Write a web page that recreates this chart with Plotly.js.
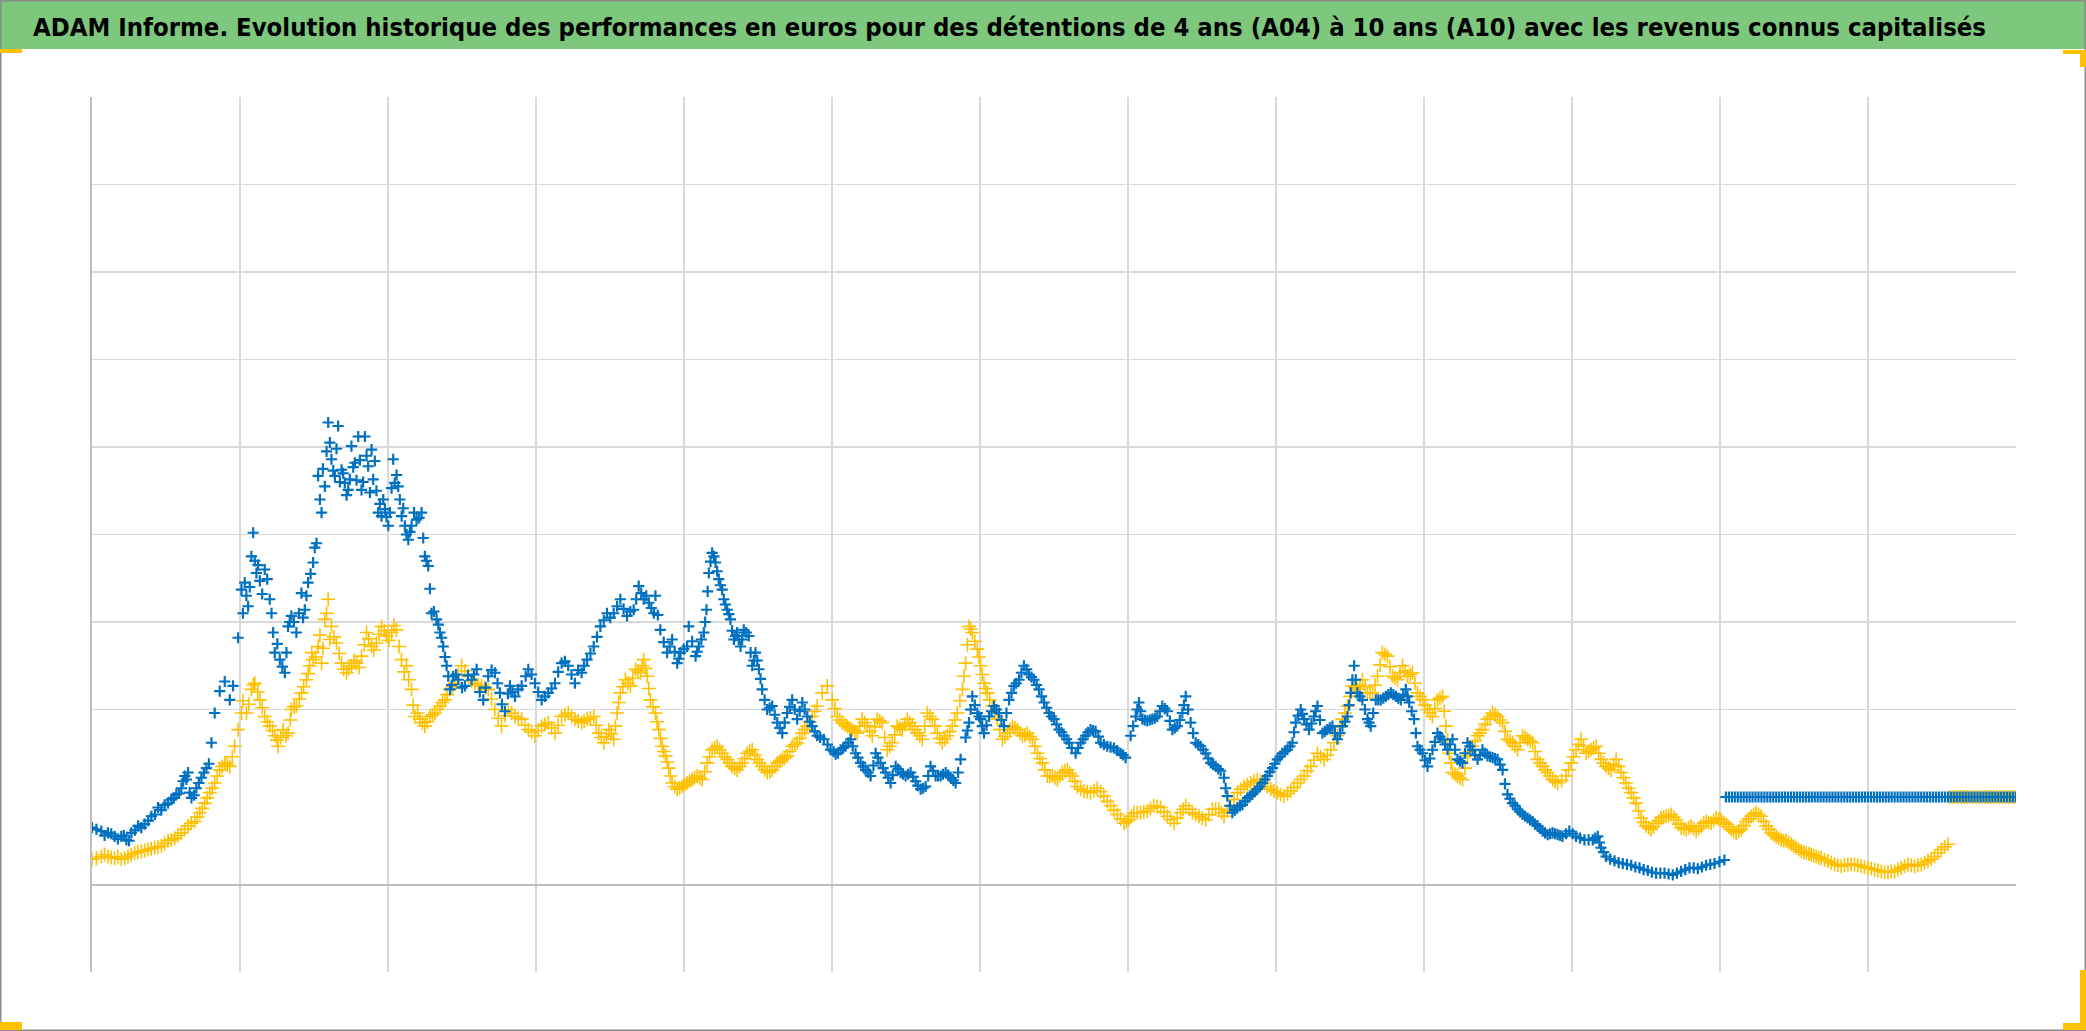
<!DOCTYPE html>
<html>
<head>
<meta charset="utf-8">
<script src="https://cdn.plot.ly/plotly-3.0.1.min.js"></script>
<style>
  html, body { margin: 0; padding: 0; background: #ffffff; }
  #chart { width: 2086px; height: 1031px; }
</style>
</head>
<body>
<div id="chart"></div>
<script>
// ---------------- DATA ----------------
const TITLE = "ADAM Informe. Evolution historique des performances en euros pour des détentions de 4 ans (A04) à 10 ans (A10) avec les revenus connus capitalisés";

// x = time in grid intervals (13 intervals across the plot), y = performance (grid step = 10)
const blueX = [0,0.063,0.108,0.153,0.198,0.232,0.266,0.311,0.356,0.401,0.446,0.491,0.536,0.570,0.604,0.627,0.649,0.672,0.705,0.739,0.773,0.807,0.829,0.863,0.897,0.931,0.953,0.987,1.010,1.032,1.055,1.077,1.089,1.111,1.134,1.167,1.201,1.213,1.235,1.269,1.303,1.325,1.347,1.381,1.415,1.438,1.460,1.494,1.517,1.528,1.551,1.573,1.596,1.618,1.641,1.663,1.686,1.708,1.731,1.753,1.776,1.799,1.821,1.844,1.866,1.889,1.911,1.934,1.956,1.979,2.013,2.035,2.046,2.069,2.092,2.114,2.137,2.159,2.193,2.227,2.249,2.272,2.294,2.328,2.351,2.373,2.396,2.419,2.441,2.475,2.520,2.565,2.599,2.644,2.677,2.723,2.756,2.790,2.824,2.858,2.903,2.948,2.993,3.038,3.083,3.128,3.173,3.218,3.263,3.308,3.345,3.39,3.435,3.48,3.525,3.57,3.615,3.66,3.694,3.728,3.762,3.796,3.807,3.84,3.886,3.92,3.954,3.976,4.021,4.032,4.078,4.1,4.134,4.152,4.168,4.19,4.213,4.235,4.258,4.269,4.292,4.314,4.337,4.359,4.382,4.404,4.438,4.461,4.483,4.506,4.528,4.562,4.596,4.63,4.664,4.697,4.731,4.765,4.799,4.833,4.866,4.9,4.945,4.99,5.024,5.058,5.092,5.126,5.159,5.193,5.227,5.261,5.295,5.328,5.362,5.396,5.43,5.464,5.497,5.531,5.565,5.599,5.633,5.666,5.7,5.734,5.768,5.802,5.835,5.869,5.903,5.926,5.948,5.982,6.004,6.027,6.061,6.095,6.128,6.162,6.196,6.23,6.264,6.297,6.331,6.365,6.399,6.433,6.467,6.5,6.534,6.568,6.602,6.646,6.68,6.713,6.747,6.781,6.815,6.86,6.905,6.95,6.984,7.018,7.052,7.074,7.097,7.13,7.164,7.198,7.232,7.266,7.3,7.333,7.367,7.39,7.423,7.457,7.491,7.525,7.559,7.592,7.626,7.649,7.671,7.705,7.739,7.773,7.807,7.84,7.874,7.908,7.942,7.976,8.009,8.043,8.077,8.111,8.133,8.167,8.19,8.223,8.257,8.28,8.314,8.347,8.381,8.415,8.449,8.483,8.505,8.528,8.55,8.584,8.618,8.64,8.674,8.708,8.742,8.776,8.81,8.843,8.877,8.9,8.933,8.956,8.99,9.024,9.057,9.091,9.125,9.159,9.193,9.226,9.26,9.294,9.328,9.362,9.395,9.429,9.463,9.497,9.531,9.564,9.598,9.632,9.666,9.7,9.734,9.767,9.801,9.835,9.869,9.903,9.936,9.982,10.027,10.084,10.14,10.174,10.196,10.23,10.287,10.343,10.4,10.456,10.512,10.568,10.625,10.681,10.737,10.794,10.85,10.906,10.963,11.03];
const blueY = [6.5,6.1,5.9,5.5,5.5,5.1,5.9,6.7,6.9,7.8,8.8,9.1,9.7,10.3,11.0,12.4,12.8,9.9,11.0,12.2,13.3,16.2,19.6,22.1,23.2,21.1,22.7,28.2,33.7,34.5,31.8,37.5,40.2,35.6,34.7,36.0,32.6,31.0,26.5,25.7,24.2,29.5,30.7,28.8,33.3,31.4,34.5,36.8,39.0,46.7,42.5,45.5,52.8,48.6,46.7,52.4,47.4,45.9,45.1,50.1,48.2,51.2,45.1,51.2,47.8,49.7,48.4,42.5,42.1,42.9,42.5,48.6,45.9,45.5,42.1,41.0,39.4,41.0,41.7,42.5,37.5,36.4,31.0,30.3,28.8,27.2,25.0,22.3,23.8,23.4,22.7,23.4,24.6,21.1,23.8,24.2,21.9,19.8,22.7,21.5,22.7,24.6,23.0,21.1,21.9,23.0,25.3,25.0,23.0,24.2,25.7,27.2,29.5,31.0,31.0,32.6,30.7,31.4,34.1,32.6,32.2,31.0,33.0,29.1,26.5,28.0,25.3,26.5,27.2,29.5,26.1,27.2,28.8,31.4,35.6,37.9,36.8,34.9,33.7,32.6,31.4,30.3,28.0,28.8,27.2,29.1,28.4,25.0,26.5,24.6,22.3,20.0,20.4,18.5,17.3,19.6,21.1,18.9,20.8,19.2,18.1,17.0,16.6,15.4,14.9,15.4,15.8,16.6,15.0,13.9,13.1,12.4,15.0,13.9,12.8,11.6,13.5,12.8,12.4,12.8,11.8,10.9,11.2,13.5,12.4,12.4,12.8,12.2,11.6,14.3,16.8,18.5,21.5,19.6,18.9,17.3,19.2,20.4,19.6,18.1,21.1,22.7,23.4,25.0,24.0,23.4,22.3,20.8,19.6,18.9,17.7,17.0,16.2,15.0,16.2,17.0,17.7,17.5,16.2,15.8,15.6,15.0,14.5,17.0,19.2,20.8,18.9,18.7,18.9,19.2,20.4,19.8,17.7,18.1,19.6,21.5,18.5,16.2,15.8,15.0,13.9,13.5,13.0,12.2,10.1,8.2,8.8,9.1,9.9,10.3,10.9,11.6,12.4,13.3,14.3,15.0,15.4,16.2,18.5,20.0,18.9,17.7,19.2,20.4,17.3,17.7,18.1,16.6,18.1,19.2,21.9,25.0,21.9,21.1,18.9,18.1,21.1,21.1,21.5,21.9,21.5,21.1,22.3,20.8,18.9,15.8,15.0,13.5,15.4,17.3,16.6,15.4,16.6,14.3,13.9,16.2,15.4,14.3,15.4,14.7,14.5,14.3,13.1,10.3,9.3,8.6,8.0,7.6,7.2,6.7,6.1,5.7,5.9,5.7,5.5,6.1,5.5,5.1,5.1,5.5,4.2,3.2,2.7,2.4,2.2,1.9,1.6,1.3,1.3,1.1,1.5,1.9,1.8,2.2,2.4,2.8];
// additional blue readings at intermediate dates
const blueX2 = [0.03,0.085,0.13,0.175,0.215,0.25,0.29,0.333,0.38,0.425,0.468,0.513,0.553,0.588,0.616,0.638,0.66,0.69,0.722,0.756,0.79,
  1.02,1.043,1.066,1.1,1.122,1.15,1.184,1.224,1.252,1.286,1.314,1.336,1.364,1.398,1.426,1.449,1.477,1.505,
  1.54,1.56,1.585,1.607,1.63,1.652,1.675,1.697,1.72,1.742,1.765,1.787,1.81,1.832,1.855,1.878,1.9,1.922,1.945,1.968,1.99,2.002,2.024,2.058,2.08,2.103,2.125,2.148,2.176,2.21,2.238,2.26,2.283,2.31,2.34,2.362,2.385,2.407,
  2.43,2.46,2.50,2.54,2.58,2.62,2.66,2.70,2.74,2.77,2.81,2.84,2.88,2.93,2.97,3.015,3.06,3.105,3.15,3.195,3.24,3.285,
  3.325,3.368,3.412,3.458,3.502,3.548,3.592,3.637,3.677,3.711,3.745,3.779,3.823,3.863,3.903,3.937,3.965,3.998,4.055,4.089,4.117,4.143,4.16,4.179,4.202,4.224,4.246,4.28,4.303,4.325,4.348,4.37,4.393,4.421,4.45,4.472,4.495,4.517,4.545,4.579,4.613,4.647,4.68,4.714,4.748,4.782,4.816,4.85,4.883,
  4.92,4.97,5.01,5.04,5.075,5.11,5.14,5.175,5.21,5.245,5.28,5.31,5.345,5.38,5.41,5.447,5.48,5.515,5.548,5.58,5.616,5.65,5.683,5.717,5.75,5.785,5.82,5.852,
  5.915,5.937,5.965,5.993,6.015,6.044,6.078,6.111,6.145,6.179,6.213,
  6.245,6.28,6.315,6.348,6.382,6.416,6.45,6.483,6.517,6.551,6.585,6.62,6.663,6.697,6.73,6.764,6.8,6.837,6.882,6.927,6.967,
  7.035,7.063,7.085,7.113,7.147,7.181,7.215,7.249,7.283,7.316,7.35,7.378,7.406,7.44,
  7.474,7.508,7.542,7.575,7.61,7.66,7.688,7.722,7.756,7.79,7.823,7.857,7.891,7.925,7.959,7.992,8.026,8.06,8.094,
  8.122,8.15,8.178,8.206,8.24,8.268,8.297,8.33,8.364,8.398,8.432,8.466,8.494,8.516,8.539,8.567,8.601,8.629,8.657,8.691,8.725,8.759,8.793,8.826,8.86,8.888,8.917,8.945,8.973,9.007,9.04,9.074,9.108,9.142,9.176,9.21,9.243,9.277,9.311,9.345,9.378,9.412,9.446,9.48,9.514,
  9.547,9.581,9.615,9.649,9.683,9.717,9.75,9.784,9.818,9.852,9.886,9.92,9.96,10.005,10.055,10.112,10.157,10.185,10.213,10.258,10.315,10.371,10.428,10.484,10.54,10.597,10.653,10.709,10.765,10.822,10.878,10.934,10.996];
const blueY2 = [6.3,5.6,5.8,5.2,5.6,5.0,6.2,6.5,7.3,8.0,8.5,9.3,9.9,10.4,11.8,12.0,10.5,10.2,11.6,12.8,13.8,
  31.0,33.0,34.0,37.0,36.5,33.2,34.9,28.8,27.5,24.9,26.5,30.0,30.0,31.0,30.5,33.0,35.5,38.5,
  44.0,47.5,49.5,50.5,47.3,49.8,46.0,47.0,44.5,46.3,47.7,46.2,48.5,46.0,49.0,44.8,46.3,45.0,43.5,44.0,42.0,41.0,45.3,46.8,44.0,43.0,40.0,40.3,42.5,41.9,39.6,37.0,33.8,31.2,29.7,28.2,26.0,23.8,
  22.8,24.0,22.5,23.9,24.0,22.0,22.5,24.5,23.0,20.6,21.8,22.0,22.3,23.8,24.0,22.0,21.5,22.4,24.3,25.5,24.0,24.5,
  25.0,26.4,28.3,30.2,30.5,31.8,31.5,31.2,32.6,33.3,33.0,31.6,30.8,27.7,27.2,26.6,25.8,26.9,27.8,26.6,28.0,30.0,33.5,36.9,37.5,35.8,34.2,32.0,30.9,29.0,28.4,28.0,28.0,28.8,26.5,25.6,25.6,23.5,21.1,20.2,19.4,17.9,18.5,20.3,20.0,19.8,20.0,18.6,17.5,
  16.8,16.0,15.2,15.0,15.6,16.2,15.8,14.5,13.5,12.8,13.6,14.5,13.3,12.2,12.5,13.2,12.6,12.6,12.3,11.3,11.0,12.4,13.0,12.4,12.6,12.5,11.9,12.8,
  17.6,20.0,20.5,19.2,18.1,18.2,19.8,20.0,18.8,19.6,21.9,
  23.0,24.2,24.6,23.7,22.8,21.5,20.2,19.2,18.3,17.4,16.6,15.6,15.6,16.6,17.4,17.6,16.9,16.0,15.7,15.3,14.8,
  18.1,20.0,19.8,18.8,18.8,19.0,19.8,20.1,18.7,17.9,18.8,20.5,20.0,17.3,
  16.0,15.4,14.4,13.7,13.2,11.0,9.0,8.5,9.0,9.5,10.1,10.6,11.2,12.0,12.9,13.8,14.6,15.2,15.8,
  17.4,19.3,19.5,18.3,18.4,19.8,18.8,17.5,17.9,17.3,17.3,18.6,20.5,23.4,23.4,21.5,20.0,18.5,19.6,21.1,21.3,21.7,21.7,21.3,21.7,21.5,19.8,17.3,15.4,14.2,14.4,16.3,16.9,16.0,16.0,15.4,14.1,15.0,15.8,14.8,14.8,15.0,14.6,14.4,13.7,
  11.5,9.8,9.0,8.3,7.8,7.4,6.9,6.4,5.9,5.8,5.8,5.6,5.8,5.8,5.3,5.1,5.3,4.8,3.7,2.9,2.5,2.3,2.0,1.7,1.4,1.3,1.2,1.3,1.7,1.9,2.0,2.3,2.6];

const yellowX = [0,0.063,0.108,0.153,0.198,0.243,0.288,0.334,0.379,0.424,0.469,0.514,0.559,0.604,0.649,0.694,0.728,0.762,0.796,0.829,0.863,0.897,0.931,0.964,0.987,1.01,1.044,1.077,1.1,1.134,1.167,1.201,1.235,1.258,1.291,1.325,1.347,1.381,1.415,1.449,1.471,1.494,1.528,1.551,1.573,1.596,1.618,1.652,1.686,1.72,1.753,1.787,1.821,1.855,1.889,1.922,1.956,1.99,2.024,2.057,2.091,2.125,2.159,2.181,2.215,2.249,2.283,2.317,2.351,2.385,2.418,2.452,2.497,2.542,2.587,2.632,2.677,2.722,2.767,2.812,2.858,2.903,2.948,2.993,3.038,3.083,3.128,3.173,3.218,3.263,3.308,3.345,3.39,3.424,3.458,3.492,3.525,3.548,3.57,3.604,3.638,3.672,3.706,3.728,3.751,3.773,3.807,3.83,3.852,3.875,3.897,3.92,3.954,3.987,4.021,4.055,4.089,4.123,4.156,4.19,4.224,4.258,4.292,4.325,4.359,4.393,4.427,4.461,4.494,4.528,4.562,4.596,4.63,4.664,4.697,4.731,4.765,4.799,4.833,4.866,4.9,4.934,4.968,5.002,5.035,5.069,5.103,5.137,5.171,5.204,5.238,5.272,5.306,5.34,5.373,5.407,5.441,5.475,5.509,5.542,5.576,5.61,5.644,5.678,5.712,5.745,5.779,5.813,5.847,5.881,5.903,5.926,5.948,5.982,6.004,6.027,6.05,6.083,6.117,6.151,6.185,6.219,6.253,6.286,6.32,6.354,6.388,6.422,6.455,6.489,6.523,6.557,6.591,6.624,6.657,6.702,6.747,6.792,6.837,6.882,6.928,6.973,7.006,7.04,7.085,7.13,7.175,7.22,7.266,7.311,7.356,7.39,7.435,7.48,7.525,7.57,7.615,7.649,7.694,7.739,7.784,7.829,7.874,7.919,7.964,8.009,8.054,8.1,8.145,8.19,8.235,8.28,8.325,8.37,8.415,8.449,8.483,8.517,8.55,8.584,8.618,8.652,8.686,8.719,8.753,8.787,8.821,8.855,8.889,8.922,8.956,8.99,9.024,9.057,9.091,9.125,9.148,9.17,9.193,9.226,9.26,9.294,9.328,9.362,9.395,9.429,9.463,9.497,9.531,9.564,9.598,9.632,9.666,9.7,9.734,9.767,9.801,9.835,9.869,9.903,9.96,9.994,10.027,10.061,10.095,10.129,10.163,10.196,10.23,10.264,10.298,10.332,10.365,10.399,10.433,10.467,10.501,10.535,10.568,10.602,10.636,10.67,10.704,10.737,10.771,10.805,10.839,10.873,10.906,10.94,10.974,11.008,11.042,11.075,11.109,11.143,11.177,11.211,11.244,11.278,11.312,11.346,11.38,11.413,11.447,11.481,11.515,11.549,11.583,11.616,11.65,11.684,11.729,11.774,11.819,11.864,11.909,11.954,11.999,12.045,12.09,12.135,12.18,12.225,12.27,12.315,12.36,12.405,12.45,12.495,12.54];
const yellowY = [2.9,3.2,3.2,3.0,2.9,3.2,3.6,3.8,4.0,4.2,4.4,5.0,5.3,5.9,6.7,7.2,8.2,9.3,10.5,11.6,13.1,13.9,13.5,15.8,17.7,19.6,19.6,22.3,23.0,21.1,19.2,18.1,17.0,15.8,17.7,17.3,20.0,20.4,21.9,23.4,25.0,25.7,27.2,25.3,30.3,32.6,29.5,27.6,25.3,24.2,25.0,25.3,26.1,28.8,27.2,27.6,29.5,28.4,28.8,29.1,25.7,25.0,22.3,19.2,18.9,18.1,19.2,19.6,20.4,21.1,22.3,23.0,25.0,23.8,23.0,22.7,22.3,20.0,18.1,20.0,19.2,18.9,17.7,17.0,18.1,18.5,17.3,19.2,19.6,18.9,18.5,18.9,19.2,17.3,16.2,17.7,16.6,19.6,21.9,23.4,22.7,24.6,24.2,25.7,23.8,21.1,19.6,17.7,15.8,14.7,13.3,11.6,10.9,11.2,11.6,12.0,12.4,12.0,13.9,15.4,15.8,15.0,14.3,13.5,13.1,13.9,15.0,15.4,14.3,13.5,12.8,13.1,13.9,14.3,14.7,15.8,16.2,17.3,18.1,19.2,20.4,21.9,22.7,21.1,19.2,18.5,18.1,17.7,17.3,18.9,18.1,17.0,18.9,18.5,15.4,16.2,18.1,17.7,18.9,18.1,17.3,16.6,19.6,18.9,17.3,16.2,17.0,18.1,19.6,22.3,25.3,29.5,28.8,26.9,25.0,23.0,21.9,20.4,18.9,16.6,17.3,18.1,17.7,17.0,17.3,16.6,15.0,13.9,12.4,12.4,12.0,12.8,13.1,12.4,11.2,10.7,10.5,11.0,10.1,9.0,8.0,7.0,7.4,8.2,8.2,8.4,9.0,8.8,7.8,7.0,8.2,9.0,8.2,7.8,7.4,8.6,8.6,7.8,9.0,10.5,11.2,11.6,12.0,11.6,10.9,10.5,10.1,10.7,11.6,12.4,13.5,15.0,14.3,15.4,17.0,18.9,20.4,22.7,22.3,23.4,21.9,21.9,23.8,26.5,26.1,23.8,23.4,25.0,23.8,24.2,21.9,21.1,20.0,19.2,21.1,21.5,18.1,15.0,12.8,12.4,12.0,14.7,15.8,17.0,17.7,18.9,19.6,19.2,18.5,16.6,16.2,15.4,17.0,16.6,16.2,14.3,13.5,12.8,12.0,11.6,12.4,13.9,15.4,16.6,15.0,15.4,15.8,14.3,13.5,13.1,14.3,12.8,11.6,10.5,9.3,7.6,6.7,6.3,7.0,7.6,7.8,8.0,7.4,6.5,6.3,6.7,6.1,6.7,7.2,7.0,7.6,7.4,6.9,6.3,5.9,6.3,7.2,7.8,8.2,7.8,6.7,5.9,5.5,5.1,5.0,4.6,4.2,3.8,3.6,3.4,3.2,3.0,2.7,2.3,2.1,2.3,2.3,2.1,1.9,1.7,1.5,1.4,1.5,1.9,2.3,2.1,2.3,2.7,3.2,4.0,4.6];
// additional yellow readings at intermediate dates
const yellowX2 = [0.03,0.085,0.13,0.175,0.22,0.265,0.31,0.356,0.4,0.446,0.49,0.536,0.58,0.626,0.671,0.711,0.745,0.779,0.812,0.846,0.88,0.914,0.948,
  1.02,1.06,1.09,1.12,1.15,1.185,1.22,1.25,1.275,1.31,1.34,1.365,1.40,1.43,1.46,1.485,1.51,1.54,1.56,1.585,1.607,1.635,1.67,1.70,1.735,1.77,1.805,1.84,1.87,1.905,1.94,1.975,2.005,2.04,2.075,2.11,2.14,2.17,2.2,2.232,2.266,2.3,2.334,2.368,2.4,2.435,2.475,2.52,2.565,2.61,2.655,2.70,2.745,2.79,2.835,2.88,2.925,2.97,3.015,3.06,3.105,3.15,3.195,3.24,3.285,3.325,3.368,3.407,3.441,3.475,3.508,3.537,3.559,3.587,3.621,3.655,3.689,3.717,3.74,3.762,3.79,3.818,3.841,3.863,3.886,3.908,
  3.937,3.97,4.004,4.038,4.072,4.106,4.14,4.173,4.207,4.241,4.275,4.308,4.342,4.376,4.41,4.444,4.478,4.511,4.545,4.579,4.613,4.647,4.68,4.714,4.748,4.782,4.816,4.85,4.883,
  5.019,5.052,5.086,5.12,5.154,5.187,5.221,5.255,5.289,5.323,5.356,5.39,5.424,5.458,5.492,5.525,5.559,5.593,5.627,5.661,5.695,5.728,5.762,5.796,5.83,5.864,5.892,5.915,5.937,5.965,5.993,6.015,6.038,6.066,6.1,6.134,6.168,6.202,6.236,6.27,6.303,6.337,6.371,
  6.405,6.438,6.472,6.506,6.54,6.574,6.607,6.64,6.68,6.725,6.77,6.815,6.86,6.905,6.95,6.99,7.023,7.062,7.107,7.152,7.197,7.243,7.288,7.333,7.373,7.412,7.457,7.502,7.547,7.592,7.632,7.671,7.716,7.761,7.806,7.851,7.896,7.941,7.986,8.031,8.077,8.122,8.167,8.212,8.257,8.302,8.347,8.392,
  8.432,8.466,8.5,8.534,8.567,8.601,8.635,8.669,8.703,8.736,8.77,8.804,8.838,8.872,8.906,8.939,8.973,9.007,9.04,9.074,9.108,9.137,9.159,9.182,9.21,9.243,9.277,9.311,9.345,9.378,9.412,9.446,9.48,9.514,9.547,9.581,9.615,9.649,9.683,9.717,9.75,9.784,9.818,9.852,9.886,9.93,9.977,10.01,10.044,10.078,10.112,10.146,10.18,10.213,10.247,10.281,10.315,10.349,10.382,10.416,
  10.45,10.484,10.518,10.551,10.585,10.619,10.653,10.687,10.72,10.754,10.788,10.822,10.856,10.89,10.923,10.957,10.991,11.025,11.058,11.092,11.126,11.16,11.194,11.227,11.261,11.295,11.329,11.363,11.396,11.43,11.464,11.498,11.532,11.566,11.6,11.633,11.667,11.706,11.751,11.796,11.841,11.886,11.931,11.976,12.022,12.067,12.112,12.157,12.202,12.247,12.292,12.337,12.382,12.427,12.472,12.518];
const yellowY2 = [3.0,3.4,3.1,3.2,3.0,3.4,3.7,3.9,4.1,4.3,4.7,5.1,5.6,6.3,7.0,7.7,8.7,9.9,11.0,12.4,13.5,13.7,14.6,
  21.0,20.6,22.8,22.0,20.2,18.6,17.6,16.5,16.8,17.0,18.8,20.3,21.2,22.6,24.1,26.5,26.0,28.5,27.0,31.0,28.0,28.3,26.4,24.6,24.7,25.6,24.8,27.4,28.1,26.8,28.6,29.0,27.9,29.6,27.2,24.3,23.4,20.5,19.6,18.5,18.6,19.4,20.0,20.8,21.7,22.6,24.0,24.4,23.3,22.8,22.5,21.2,19.0,19.3,19.6,19.0,18.2,17.4,17.6,18.3,17.9,18.2,19.4,19.2,18.7,18.7,19.0,18.2,16.8,16.9,17.2,18.1,20.8,22.6,23.0,23.6,24.4,25.0,24.7,22.4,20.3,18.6,16.7,15.2,14.0,12.4,
  11.2,11.0,11.4,11.8,12.2,12.2,12.9,14.6,15.6,15.4,14.6,13.9,13.3,13.5,14.4,15.2,14.8,13.9,13.1,12.9,13.5,14.1,14.5,15.2,16.0,16.7,17.7,18.6,19.8,
  20.1,18.8,18.3,17.9,17.5,18.1,18.5,17.5,18.0,18.7,16.8,15.8,17.1,17.9,18.3,18.5,17.7,17.0,18.1,19.2,18.1,16.7,16.6,17.5,18.8,21.0,23.8,27.4,29.2,27.8,26.0,24.0,22.4,21.1,19.6,17.7,16.9,17.7,17.9,17.3,17.1,16.9,15.8,
  14.4,13.1,12.4,12.2,12.4,13.0,12.7,11.8,10.9,10.6,10.7,10.6,9.5,8.5,7.5,7.2,7.8,8.2,8.3,8.7,8.9,8.3,7.4,7.6,8.6,8.6,8.0,7.6,8.0,8.6,8.2,8.4,9.7,10.9,11.4,11.8,11.8,11.2,10.7,10.3,10.4,11.1,12.0,13.0,14.2,14.6,14.8,16.2,
  18.0,19.6,21.5,22.5,22.8,22.6,21.9,22.8,25.1,26.3,24.9,23.6,24.2,24.4,24.0,23.0,21.5,20.5,19.6,20.1,21.3,19.8,16.5,13.9,12.6,12.2,13.3,15.2,16.4,17.3,18.3,19.2,19.4,18.8,17.5,16.4,15.8,16.2,16.8,16.4,15.2,13.9,13.1,12.4,11.8,11.9,13.1,14.6,16.0,15.8,15.2,15.6,15.0,13.9,13.3,13.7,13.5,12.2,11.0,9.9,
  8.4,7.1,6.5,6.6,7.3,7.7,7.9,7.7,6.9,6.4,6.5,6.4,6.4,7.0,7.1,7.3,7.5,7.1,6.6,6.1,6.1,6.7,7.5,8.0,8.0,7.2,6.3,5.7,5.3,5.0,4.8,4.4,4.0,3.7,3.5,3.3,3.1,2.8,2.5,2.2,2.2,2.3,2.2,2.0,1.8,1.6,1.4,1.5,1.7,2.1,2.2,2.2,2.5,2.9,3.6,4.3];

// Final flat segment (both series stuck at the same level at the end)
const FLAT_LEVEL = 10;
const blueFlatX = [11.04,11.06,11.08,11.10,11.12,11.14,11.16,11.18,11.20,11.22,11.24,11.26,11.28,11.30,11.32,11.34,11.36,11.38,11.40,11.42,11.44,11.46,11.48,11.50,11.52,11.54,11.56,11.58,11.60,11.62,11.64,11.66,11.68,11.70,11.72,11.74,11.76,11.78,11.80,11.82,11.84,11.86,11.88,11.90,11.92,11.94,11.96,11.98,12.00,12.02,12.04,12.06,12.08,12.10,12.12,12.14,12.16,12.18,12.20,12.22,12.24,12.26,12.28,12.30,12.32,12.34,12.36,12.38,12.40,12.42,12.44,12.46,12.48,12.50,12.52,12.54,12.56,12.58,12.60,12.62,12.64,12.66,12.68,12.70,12.72,12.74,12.76,12.78,12.80,12.82,12.84,12.86,12.88,12.90,12.92,12.94,12.96,12.98,13.00];
const yellowFlatX = [12.55,12.57,12.59,12.61,12.63,12.65,12.67,12.69,12.71,12.73,12.75,12.77,12.79,12.81,12.83,12.85,12.87,12.89,12.91,12.93,12.95,12.97,12.99];

const xGrid = [0,1,2,3,4,5,6,7,8,9,10,11,12];
const yGrid = [-10,0,20,30,40,50,60,70,80,90];

// ---------------- LAYOUT HELPERS ----------------
const W = 2086, H = 1031;
const M = {l: 92, r: 70, t: 97, b: 59};
const PW = W - M.l - M.r, PH = H - M.t - M.b;
const px = v => (v - M.l) / PW;          // page px -> paper x
const py = v => (H - M.b - v) / PH;      // page px -> paper y

function rectPx(x0, y0, x1, y1, fill, layer) {
  return {type: 'rect', xref: 'paper', yref: 'paper',
          x0: px(x0), x1: px(x1), y0: py(y1), y1: py(y0),
          fillcolor: fill, line: {width: 0}, layer: layer || 'above'};
}

const ORANGE = '#FFC000';
const shapes = [
  rectPx(1, 1, 2085, 49, '#7DC87D', 'below'),
  {type: 'rect', xref: 'paper', yref: 'paper', x0: px(0.75), x1: px(2085.25), y0: py(1030.25), y1: py(0.75),
   line: {color: '#8c8c8c', width: 1.5}, fillcolor: 'rgba(0,0,0,0)', layer: 'above'},
  rectPx(0, 49, 22, 53, ORANGE),
  rectPx(2063, 50, 2086, 54, ORANGE),
  rectPx(2080, 50, 2086, 67, ORANGE),
  rectPx(0, 1022, 22, 1030, ORANGE),
  rectPx(2080, 970, 2086, 1030, ORANGE),
  rectPx(2063, 1023, 2086, 1030, ORANGE)
];

// title: a condensed bold face sized so that it spans the same width as in the reference
const TITLE_LEFT = 33, TITLE_WIDTH = 1953;
let titleFamily = '"DejaVu Sans", sans-serif';
let titleSize = 27;
try {
  const c = document.createElement('canvas').getContext('2d');
  c.font = 'bold 100px "DejaVu Sans Condensed", monospace';
  const wc = c.measureText(TITLE).width;
  c.font = 'bold 100px monospace';
  const wm = c.measureText(TITLE).width;
  c.font = 'bold 100px "DejaVu Sans", sans-serif';
  const wd = c.measureText(TITLE).width;
  if (Math.abs(wc - wm) > 1) {
    titleFamily = '"DejaVu Sans Condensed", "DejaVu Sans", sans-serif';
    titleSize = Math.min(31, 100 * TITLE_WIDTH / wc);
  } else {
    titleSize = Math.min(31, 100 * TITLE_WIDTH / wd);
  }
} catch (e) {}

const traceYellow = {
  type: 'scatter', mode: 'markers', name: 'A10',
  x: yellowX.concat(yellowX2, yellowFlatX),
  y: yellowY.concat(yellowY2, yellowFlatX.map(() => FLAT_LEVEL)),
  marker: {symbol: 'cross-thin', size: 10, color: '#FFC000', line: {color: '#FFC000', width: 1.6}},
  hoverinfo: 'skip'
};
const traceBlue = {
  type: 'scatter', mode: 'markers', name: 'A04',
  x: blueX.concat(blueX2, blueFlatX),
  y: blueY.concat(blueY2, blueFlatX.map(() => FLAT_LEVEL)),
  marker: {symbol: 'cross-thin', size: 8, color: '#0070C0', line: {color: '#0070C0', width: 2.2}},
  hoverinfo: 'skip'
};

const layout = {
  width: W, height: H,
  margin: M,
  paper_bgcolor: 'rgba(0,0,0,0)',
  plot_bgcolor: '#ffffff',
  showlegend: false,
  title: {
    text: TITLE,
    x: TITLE_LEFT / W, xanchor: 'left', xref: 'container',
    y: 1 - 27 / H, yanchor: 'middle', yref: 'container',
    font: {family: titleFamily, size: titleSize, color: '#000000', weight: 'bold'}
  },
  xaxis: {
    range: [0, 13], tickmode: 'array', tickvals: xGrid, showticklabels: false,
    showgrid: true, gridcolor: '#d9d9d9', gridwidth: 1.5,
    zeroline: false, showline: false, ticks: '', fixedrange: true
  },
  yaxis: {
    range: [-10, 90], tickmode: 'array', tickvals: yGrid, showticklabels: false,
    showgrid: true, gridcolor: '#d9d9d9', gridwidth: 1.5,
    zeroline: true, zerolinecolor: '#bfbfbf', zerolinewidth: 2,
    showline: true, linecolor: '#bfbfbf', linewidth: 2, ticks: '', fixedrange: true
  },
  shapes: shapes
};

Plotly.newPlot('chart', [traceYellow, traceBlue], layout, {staticPlot: true, displayModeBar: false}).then(gd => {
  // make the title span exactly the reference width (small adjustment only)
  const t = gd.querySelector('.gtitle');
  if (t) {
    t.setAttribute('textLength', TITLE_WIDTH);
    t.setAttribute('lengthAdjust', 'spacingAndGlyphs');
  }
});
</script>
</body>
</html>
